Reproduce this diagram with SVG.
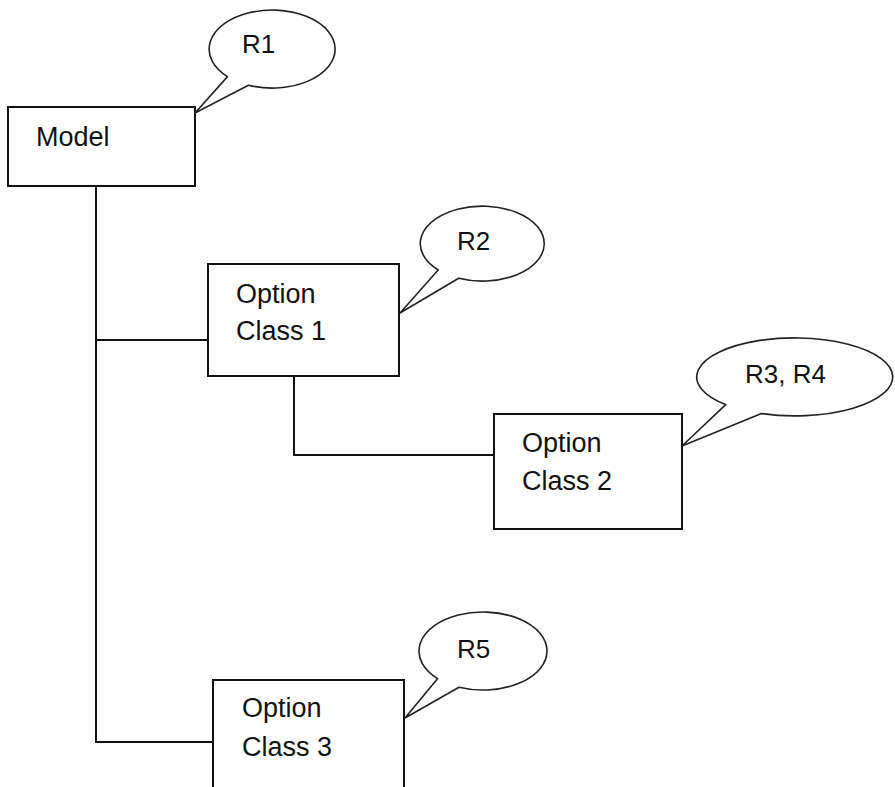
<svg xmlns="http://www.w3.org/2000/svg" width="895" height="787" viewBox="0 0 895 787">
<style>
.box{fill:#fff;stroke:#111;stroke-width:2}
.call{fill:#fff;stroke:#222;stroke-width:1.6;stroke-linejoin:round}
.t{font-family:"Liberation Sans",Arial,sans-serif;font-size:27px;fill:#111}
.c{font-family:"Liberation Sans",Arial,sans-serif;font-size:26px;fill:#111}
.ln{fill:none;stroke:#111;stroke-width:2}
</style>
<rect width="895" height="787" fill="#fff"/>
<g id="connectors">
<path class="ln" d="M96 186 V742 M95 742 H213 M96 340 H208 M294 376 V455 H494"/>
</g>
<g id="model">
<rect class="box" x="8" y="107" width="187" height="79"/>
<text class="t" x="36" y="146">Model</text>
</g>
<g id="r1">
<path class="call" d="M248.4 85.2 A63 39 0 1 0 227.5 76.6 L195 113 Z"/>
<text class="c" x="242" y="53">R1</text>
</g>
<g id="option-class-1">
<rect class="box" x="208" y="264" width="191" height="112"/>
<text class="t" x="236" y="303">Option</text>
<text class="t" x="236" y="340">Class 1</text>
</g>
<g id="r2">
<path class="call" d="M458.7 278.3 A62 37.5 0 1 0 438.2 270 L400 313 Z"/>
<text class="c" x="457" y="250">R2</text>
</g>
<g id="option-class-2">
<rect class="box" x="494" y="414" width="188" height="115"/>
<text class="t" x="522" y="452">Option</text>
<text class="t" x="522" y="490">Class 2</text>
</g>
<g id="r3r4">
<path class="call" d="M761.5 413.6 A98 39 0 1 0 725.7 404.6 L682 446 Z"/>
<text class="c" x="745" y="383">R3, R4</text>
</g>
<g id="option-class-3">
<rect class="box" x="213" y="680" width="191" height="130"/>
<text class="t" x="242" y="717">Option</text>
<text class="t" x="242" y="756">Class 3</text>
</g>
<g id="r5">
<path class="call" d="M459 687.2 A64 39 0 1 0 437.7 678.6 L405 718 Z"/>
<text class="c" x="457" y="658">R5</text>
</g>
</svg>
